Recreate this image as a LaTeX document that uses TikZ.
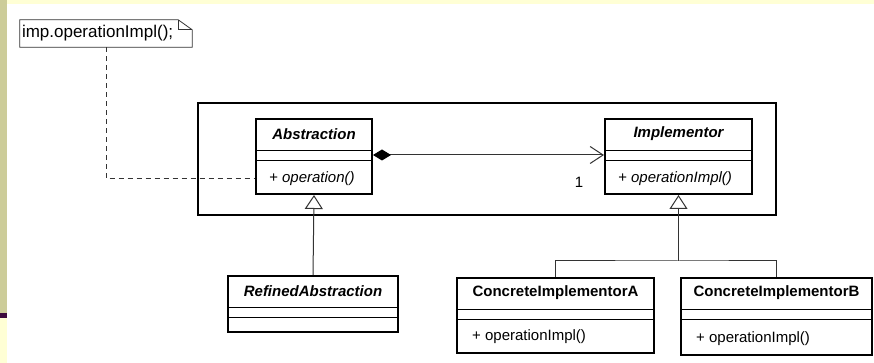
\documentclass[tikz,border=0pt]{standalone}
\usepackage{fontspec}
\setmainfont{Liberation Sans}
\usepackage{tikz}
\usetikzlibrary{positioning}
\usetikzlibrary{calc}
\usetikzlibrary{arrows.meta}

\definecolor{cream}{HTML}{FFFFD5}
\definecolor{khaki}{HTML}{CCCC99}
\definecolor{plum}{HTML}{3D0A3D}
\definecolor{linegray}{HTML}{333333}

\tikzset{
    classbox/.style={draw, line width=2pt, inner sep=0pt},
    classname/.style={font=\fontsize{15}{18}\selectfont\bfseries, inner sep=0pt},
    member/.style={font=\fontsize{15}{18}\selectfont, anchor=west, inner sep=0pt},
    compsep/.style={line width=0.8pt},
    link/.style={draw=linegray, line width=1pt},
    inherit/.style={link, -{Triangle[open, length=14pt, width=18pt]}},
}

\begin{document}
\begin{tikzpicture}[x=1pt, y=1pt]
    % background of the slide
    \fill[cream] (0,0) rectangle (874,363);
    \fill[white] (7,0) rectangle (874,359);
    \fill[khaki] (0,50) rectangle (7,363);
    \fill[plum] (0,45) rectangle (7,50);
    \useasboundingbox (0,0) rectangle (874,363);

    \node[draw, line width=2pt, minimum width=578pt, minimum height=112pt] (frame) at (487,204) {};

    % Abstraction
    \node[classbox, minimum width=116pt, minimum height=75pt] (abs) at (314,206.5) {};
    \node[classname, font=\fontsize{15}{18}\selectfont\bfseries\itshape] (absname) at ([yshift=-16pt]abs.north) {Abstraction};
    \draw[compsep] ([yshift=-32pt]abs.north west) -- ([yshift=-32pt]abs.north east);
    \draw[compsep] ([yshift=-42pt]abs.north west) -- ([yshift=-42pt]abs.north east);
    \node[member, font=\fontsize{15}{18}\selectfont\itshape] (absop) at ([xshift=14pt, yshift=16.5pt]abs.south west) {+ operation()};

    % Implementor
    \node[classbox, minimum width=147pt, minimum height=75pt] (impl) at (678.5,206.5) {};
    \node[classname, font=\fontsize{15}{18}\selectfont\bfseries\itshape] (implname) at ([yshift=-16pt]impl.north) {Implementor};
    \draw[compsep] ([yshift=-32pt]impl.north west) -- ([yshift=-32pt]impl.north east);
    \draw[compsep] ([yshift=-42pt]impl.north west) -- ([yshift=-42pt]impl.north east);
    \node[member, font=\fontsize{15}{18}\selectfont\itshape] (implop) at ([xshift=14pt, yshift=16.5pt]impl.south west) {+ operationImpl()};

    % RefinedAbstraction
    \node[classbox, minimum width=170pt, minimum height=56pt] (refined) at (313,59) {};
    \node[classname, font=\fontsize{15}{18}\selectfont\bfseries\itshape] (refinedname) at ([yshift=-16pt]refined.north) {RefinedAbstraction};
    \draw[compsep] ([yshift=-32pt]refined.north west) -- ([yshift=-32pt]refined.north east);
    \draw[compsep] ([yshift=-42pt]refined.north west) -- ([yshift=-42pt]refined.north east);

    % ConcreteImplementorA
    \node[classbox, minimum width=197pt, minimum height=75pt] (ca) at (555.5,47.5) {};
    \node[classname] (caname) at ([yshift=-16pt]ca.north) {ConcreteImplementorA};
    \draw[compsep] ([yshift=-32pt]ca.north west) -- ([yshift=-32pt]ca.north east);
    \draw[compsep] ([yshift=-42pt]ca.north west) -- ([yshift=-42pt]ca.north east);
    \node[member] (caop) at ([xshift=16pt, yshift=17pt]ca.south west) {+ operationImpl()};

    % ConcreteImplementorB
    \node[classbox, minimum width=191pt, minimum height=77pt] (cb) at (776.5,46.5) {};
    \node[classname] (cbname) at ([yshift=-16pt]cb.north) {ConcreteImplementorB};
    \draw[compsep] ([yshift=-32pt]cb.north west) -- ([yshift=-32pt]cb.north east);
    \draw[compsep] ([yshift=-42pt]cb.north west) -- ([yshift=-42pt]cb.north east);
    \node[member] (cbop) at ([xshift=16pt, yshift=17.5pt]cb.south west) {+ operationImpl()};

    % note
    \node[font=\fontsize{17}{19}\selectfont, text width=168pt, align=left, inner sep=2pt, minimum height=27pt] (note) at (106,329.5) {imp.operationImpl();};
    \draw[linegray, line width=0.8pt] (note.south west) -- (note.north west) -- ([xshift=-14pt]note.north east) -- ([yshift=-10pt]note.north east) -- (note.south east) -- cycle;
    \draw[linegray, line width=0.8pt] ([xshift=-14pt]note.north east) |- ([yshift=-10pt]note.north east);
    \draw[link, dash pattern=on 5pt off 4pt] (note.south) |- (absop.west -| abs.west);

    % connectors
    \draw[link, {Diamond[length=18pt, width=11pt, fill=black, color=black]}-{Straight Barb[length=13pt, width=17pt]}] ([yshift=-37pt]abs.north east) -- ([yshift=-37pt]impl.north west);
    \node[font=\fontsize{15}{18}\selectfont, inner sep=0pt] (mult) at ([xshift=-25pt, yshift=-25.5pt]impl.west) {1};

    \draw[inherit] (refined.north) -- (abs.south);
    \coordinate (fork) at ($(impl.south)+(0,-66)$);
    \draw[link] (ca.north) |- (fork) -| (cb.north);
    \draw[inherit] (fork) -- (impl.south);
\end{tikzpicture}
\end{document}
